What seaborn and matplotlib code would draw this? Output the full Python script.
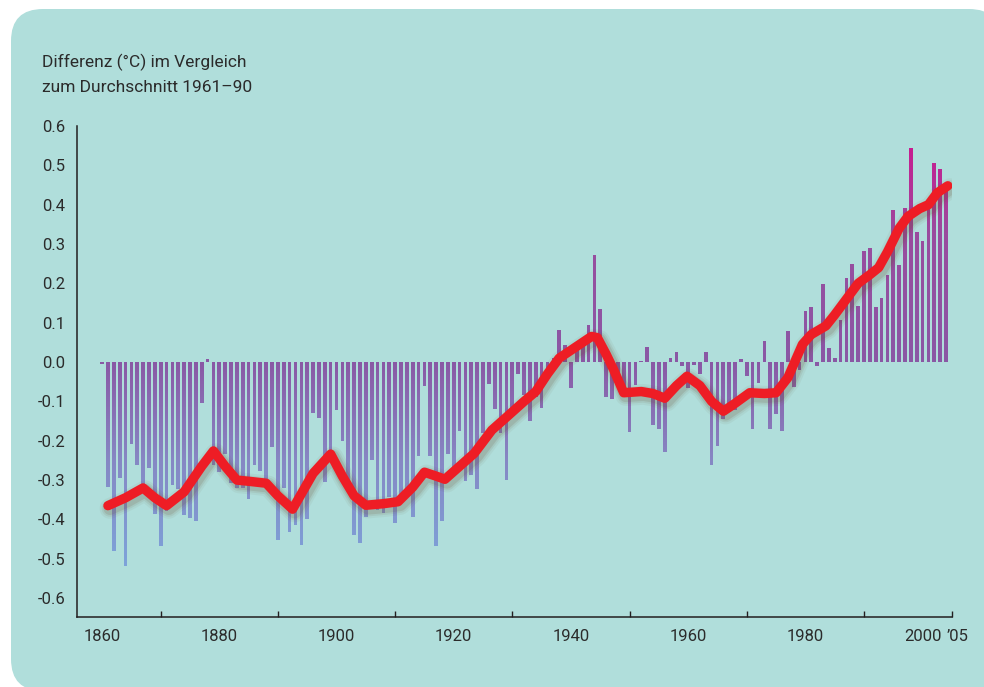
"""
Globale Temperaturabweichung 1860-2004 als Balken mit Verlaufsfarben
und geglaetteter Kurve.
"""

import matplotlib

matplotlib.use("Agg")
import matplotlib.patheffects as pe
import matplotlib.pyplot as plt
import numpy as np
import pandas as pd
import seaborn as sns
from matplotlib.colors import LinearSegmentedColormap, Normalize
from matplotlib.patches import FancyBboxPatch
from matplotlib.path import Path
from matplotlib.transforms import IdentityTransform, ScaledTranslation


BG = "#B0DEDB"
INK = "#2B2B2B"
RED = "#EE1D25"

YEARS = list(range(1860, 2005))
ANOMALY = [
    -0.005, -0.317, -0.48, -0.294, -0.518, -0.208, -0.262, -0.309, -0.269, -0.386,   # 1860
    -0.467, -0.378, -0.313, -0.322, -0.389, -0.396, -0.403, -0.103, 0.008, -0.262,    # 1870
    -0.28, -0.233, -0.307, -0.321, -0.319, -0.348, -0.262, -0.276, -0.31, -0.215,     # 1880
    -0.452, -0.319, -0.431, -0.414, -0.464, -0.40, -0.129, -0.143, -0.304, -0.24,     # 1890
    -0.122, -0.20, -0.31, -0.44, -0.459, -0.393, -0.249, -0.377, -0.383, -0.342,      # 1900
    -0.408, -0.34, -0.33, -0.393, -0.24, -0.06, -0.24, -0.467, -0.404, -0.233,        # 1910
    -0.28, -0.175, -0.303, -0.287, -0.322, -0.18, -0.055, -0.12, -0.18, -0.30,        # 1920
    -0.118, -0.03, -0.084, -0.149, -0.088, -0.116, -0.04, 0.01, 0.081, 0.043,         # 1930
    -0.065, 0.03, 0.04, 0.094, 0.272, 0.134, -0.088, -0.093, -0.06, -0.07,            # 1940
    -0.177, -0.058, 0.003, 0.037, -0.16, -0.17, -0.228, 0.011, 0.025, -0.009,         # 1950
    -0.065, -0.007, -0.03, 0.025, -0.262, -0.213, -0.146, -0.122, -0.122, 0.009,      # 1960
    -0.036, -0.17, -0.052, 0.053, -0.17, -0.131, -0.175, 0.079, -0.064, -0.02,        # 1970
    0.13, 0.14, -0.009, 0.198, 0.036, 0.01, 0.107, 0.213, 0.249, 0.142,               # 1980
    0.282, 0.29, 0.141, 0.163, 0.221, 0.386, 0.247, 0.392, 0.544, 0.33,               # 1990
    0.308, 0.403, 0.506, 0.49, 0.446,                                                 # 2000
]

# geglaettete Kurve, Stuetzpunkte
SMOOTH_YEARS = [
    1861, 1864, 1867, 1869, 1871, 1874, 1877, 1879, 1881, 1883, 1885, 1888,
    1890, 1892.5, 1894, 1896, 1899, 1901, 1903, 1905, 1908, 1910.5, 1913, 1915,
    1917, 1918.5, 1921, 1923.5, 1926.5, 1929, 1932, 1934, 1936, 1938, 1940.5,
    1943.5, 1944.5, 1946, 1947.3, 1949, 1952, 1954, 1956, 1958, 1959.8, 1962,
    1964, 1966, 1968, 1970.5, 1973, 1975, 1977, 1979.5, 1981, 1983.5, 1985,
    1987, 1989, 1991, 1992.5, 1994, 1996, 1997.5, 1999.5, 2001, 2002.5, 2004.3,
]
SMOOTH_VALUES = [
    -0.365, -0.345, -0.32, -0.345, -0.365, -0.33, -0.265, -0.226, -0.265, -0.30,
    -0.303, -0.308, -0.34, -0.374, -0.335, -0.283, -0.234, -0.29, -0.34, -0.364,
    -0.36, -0.355, -0.318, -0.28, -0.29, -0.298, -0.265, -0.232, -0.173, -0.14,
    -0.10, -0.075, -0.03, 0.01, 0.035, 0.065, 0.062, 0.02, -0.02, -0.078,
    -0.075, -0.08, -0.092, -0.06, -0.036, -0.06, -0.10, -0.125, -0.105, -0.078,
    -0.08, -0.078, -0.04, 0.045, 0.07, 0.092, 0.12, 0.16, 0.20, 0.222,
    0.24, 0.28, 0.34, 0.37, 0.39, 0.40, 0.43, 0.448,
]

Y_TICKS = [-0.6, -0.5, -0.4, -0.3, -0.2, -0.1, 0.0, 0.1, 0.2, 0.3, 0.4, 0.5, 0.6]
Y_TICK_LABELS = ["-0.6", "-0.5", "-0.4", "-0.3", "-0.2", "-0.1", "0.0",
                 "0.1", "0.2", "0.3", "0.4", "0.5", "0.6"]
X_TICKS = [1860, 1880, 1900, 1920, 1940, 1960, 1980, 2000]
X_TICK_LABELS = ["1860", "1880", "1900", "1920", "1940", "1960", "1980", "2000"]
X_MINOR = [1870, 1890, 1910, 1930, 1950, 1970, 1990, 2005]
X_MINOR_LABELS = ["", "", "", "", "", "", "", "\u201905"]

TITLE_LINES = ["Differenz (°C) im Vergleich", "zum Durchschnitt 1961\u201390"]


def main() -> None:
    sns.set_theme(style="white")
    plt.rcParams["font.family"] = ["Roboto", "DejaVu Sans"]

    fig = plt.figure(figsize=(9.84, 6.87), dpi=100)
    fig.patch.set_facecolor("white")

    # abgerundete Hintergrundflaeche
    panel = FancyBboxPatch(
        (11, -4), 990, 682,
        boxstyle="round,pad=0,rounding_size=32",
        transform=IdentityTransform(), facecolor=BG, edgecolor="none", zorder=0,
    )
    fig.add_artist(panel)

    ax = fig.add_axes([0.0783, 0.1019, 0.8891, 0.7147])
    ax.set_facecolor("none")

    df = pd.DataFrame({"Jahr": YEARS, "Anomalie": ANOMALY})
    sns.barplot(data=df, x="Jahr", y="Anomalie", native_scale=True,
                width=0.63, color="k", ax=ax)

    # Balken als Maske fuer den Farbverlauf verwenden
    bars = list(ax.patches)
    clip = Path.make_compound_path(
        *[b.get_path().transformed(b.get_patch_transform()) for b in bars]
    )
    for b in bars:
        b.set_visible(False)

    cmap = LinearSegmentedColormap.from_list(
        "bars",
        [(0.0, "#7CA6DC"), (0.27, "#8688C4"), (0.5, "#8A58A5"),
         (0.8, "#9A4C9E"), (1.0, "#C81C90")],
    )
    grad = np.linspace(-0.65, 0.6, 500).reshape(-1, 1)
    img = ax.imshow(grad, cmap=cmap, norm=Normalize(-0.55, 0.55),
                    extent=[1855, 2006, -0.65, 0.6], origin="lower",
                    aspect="auto", interpolation="bilinear", zorder=2)
    img.set_clip_path(clip, ax.transData)

    sns.lineplot(x=SMOOTH_YEARS, y=SMOOTH_VALUES, color=RED, linewidth=6.8,
                 ax=ax, zorder=4)
    line = ax.lines[-1]
    line.set_solid_capstyle("round")
    line.set_solid_joinstyle("round")
    shadow = "#6B4A2E"
    line.set_path_effects([
        pe.Stroke(linewidth=15, foreground=shadow, alpha=0.06, offset=(1.5, -2)),
        pe.Stroke(linewidth=12, foreground=shadow, alpha=0.09, offset=(1.5, -2)),
        pe.Stroke(linewidth=9.5, foreground=shadow, alpha=0.14, offset=(1.5, -2)),
        pe.Normal(),
    ])

    ax.set_xlim(1855.73, 2005.0)
    ax.set_ylim(-0.648, 0.6)
    ax.set_xlabel("")
    ax.set_ylabel("")

    for side in ("top", "right"):
        ax.spines[side].set_visible(False)
    for side in ("left", "bottom"):
        ax.spines[side].set_color("#231F20")
        ax.spines[side].set_linewidth(1.1)

    ax.set_yticks(Y_TICKS)
    ax.set_yticklabels(Y_TICK_LABELS)
    ax.set_xticks(X_TICKS)
    ax.set_xticklabels(X_TICK_LABELS)
    ax.set_xticks(X_MINOR, minor=True)
    ax.set_xticklabels(X_MINOR_LABELS, minor=True)

    ax.tick_params(axis="y", which="major", direction="in", length=8, width=1,
                   pad=8.5, labelsize=12, color="#231F20", labelcolor=INK)
    ax.tick_params(axis="x", which="major", direction="in", length=8.6, width=1,
                   pad=9, labelsize=12, color="#231F20", labelcolor=INK)
    ax.tick_params(axis="x", which="minor", direction="in", length=4.3, width=1,
                   pad=9, labelsize=12, color="#231F20", labelcolor=INK,
                   bottom=True)

    # das '05 etwas nach rechts ruecken, damit es nicht an 2000 klebt
    last = ax.xaxis.get_minorticklabels()[-1]
    last.set_transform(last.get_transform()
                       + ScaledTranslation(4 / 72, 0, fig.dpi_scale_trans))

    fig.text(42 / 984, 1 - 67 / 687, TITLE_LINES[0], fontsize=12.5, color=INK,
             va="baseline", ha="left")
    fig.text(42 / 984, 1 - 92 / 687, TITLE_LINES[1], fontsize=12.5, color=INK,
             va="baseline", ha="left")

    fig.savefig("out.png", dpi=100)
    plt.close(fig)


if __name__ == "__main__":
    main()
